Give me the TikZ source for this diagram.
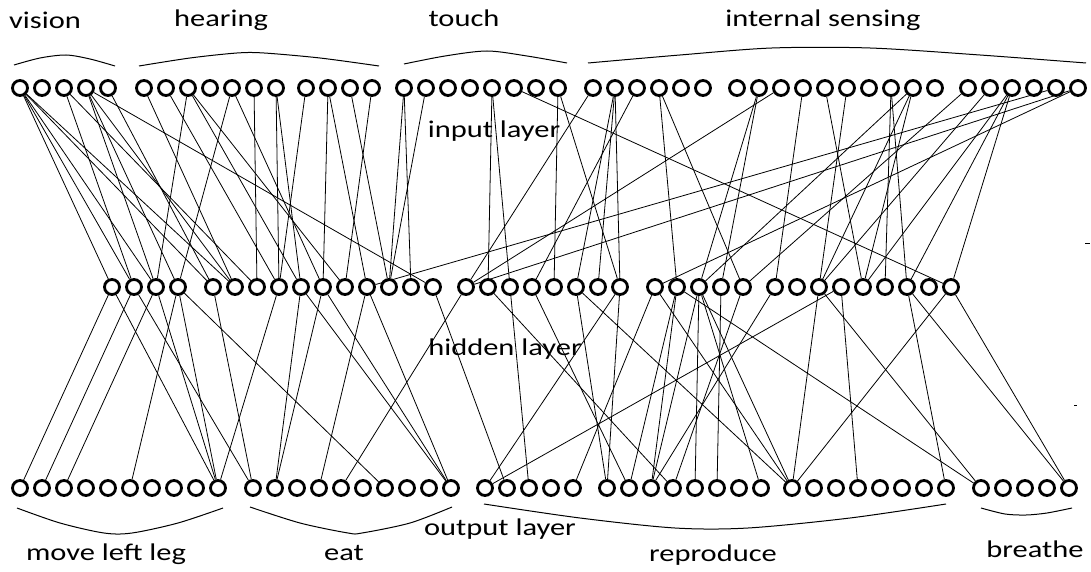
\documentclass[tikz,border=0pt]{standalone}
\usepackage{fontspec}
\setmainfont{Carlito}
\newcommand{\lab}[1]{\scalebox{1.27}[1]{\fontsize{24}{26}\selectfont #1}}
\begin{document}
\begin{tikzpicture}[x=1pt,y=-1pt,
  neuron/.style={circle,draw,line width=2.8pt,minimum size=15pt,inner sep=0pt},
  conn/.style={line width=0.8pt},
  lbl/.style={inner sep=0pt,anchor=base},
  brace/.style={line width=1pt}]
\useasboundingbox (0,0) rectangle (1091,572);
% neurons
\foreach \n/\s/\c/\y in {A/20/5/88,B/144/7/88,C/306/4/88,D/404/8/88,E/593/6/88,F/737/10/88,G/968/6/88,
  P/112/4/287,Q/213/11/287,R/466/8/287,S/655/5/287,T/775/9/287,
  U/20/10/488,V/253/10/488,W/485/5/488,X/607/8/488,Y/792/8/488,Z/981/5/488}
  {\foreach \k in {1,...,\c} {\node[neuron] (\n\k) at ({\s+(\k-1)*22},\y) {};}}
% input -> hidden
\foreach \a/\b in {A1/P1,A1/P2,A1/P3,A1/Q1,A1/Q2,A3/P2,A3/Q3,A4/P3,A4/P4,A4/Q2,A4/Q11,A5/Q1,
  B1/Q2,B2/Q4,B3/P3,B3/Q5,B3/Q7,B5/P4,B5/Q6,B6/Q3,B7/Q4,B7/Q5,C1/Q4,C2/Q6,C2/Q8,C3/Q9,C4/Q7,
  D1/Q9,D1/Q10,D2/Q9,D5/R2,D5/R3,D6/T9,D8/R5,D8/R8,E1/R1,E2/R6,E2/R7,E2/R8,E3/R4,E4/S2,E4/S5,
  F2/S3,F2/S4,F3/R1,F4/T1,F5/T5,F6/T3,F8/T6,F8/T7,F9/T3,F9/T5,F9/S3,G1/S5,G2/T3,G3/T5,G3/T7,G3/T9,
  G5/Q8,G6/S1,G6/R1}
  {\draw[conn] (\a) -- (\b);}
% hidden -> output
\foreach \a/\b in {P1/U1,P1/U10,P2/U2,P2/V1,P3/U3,P3/U10,P4/U6,P4/U10,P4/V7,
  Q1/V1,Q4/U10,Q5/V2,Q6/V2,Q5/V10,Q6/V10,Q8/V10,Q8/V4,R1/V5,Q11/W2,
  R3/W3,R8/W1,S1/W5,T4/W1,R6/X1,R8/X1,R4/X2,S2/X2,S2/X3,S3/X3,T1/X3,S5/X4,S3/X5,S4/X6,S3/X8,
  R6/Y1,S1/Y1,S3/Y1,T3/Y1,T9/Y1,T4/Y4,T7/Y8,S2/Z1,T3/Z1,T7/Z5,T9/Z5,R2/X4}
  {\draw[conn] (\a) -- (\b);}
% group braces
\draw[brace] plot[smooth] coordinates {(14,65) (40,58) (66,55) (90,59) (115,66)};
\draw[brace] plot[smooth] coordinates {(139,66) (190,58) (237,53) (264,53) (320,58) (379,66)};
\draw[brace] plot[smooth] coordinates {(404,64) (445,56) (487,51) (527,56) (567,63)};
\draw[brace] plot[smooth] coordinates {(588,63) (680,55) (772,48) (870,48) (980,55) (1086,63)};
\draw[brace] plot[smooth] coordinates {(17,508) (60,523) (104,533) (132,533) (178,523) (223,508)};
\draw[brace] plot[smooth] coordinates {(250,507) (300,523) (348,533) (362,533) (410,523) (452,507)};
\draw[brace] plot[smooth] coordinates {(484,504) (580,518) (675,528) (748,528) (850,518) (946,504)};
\draw[brace] plot[smooth] coordinates {(981,508) (1005,514) (1026,515) (1047,513) (1072,508)};
% labels
\node[lbl] (tv) at (45,29) {\lab{vision}};
\node[lbl] (th) at (221,27) {\lab{hearing}};
\node[lbl] (tt) at (464,27) {\lab{touch}};
\node[lbl] (ti) at (823,27) {\lab{internal sensing}};
\node[lbl] (tin) at (494,138) {\lab{input layer}};
\node[lbl] (thl) at (505,355) {\lab{hidden layer}};
\node[lbl] (tol) at (500,535) {\lab{output layer}};
\node[lbl] (tm) at (106,560) {\lab{move left leg}};
\node[lbl] (te) at (344,560) {\lab{eat}};
\node[lbl] (tr) at (713,561) {\lab{reproduce}};
\node[lbl] (tb) at (1035,557) {\lab{breathe}};
% small marks
\draw[line width=0.8pt] (1085,243) -- (1090,243);
\draw[line width=0.8pt] (1074,405) -- (1077,405);
\end{tikzpicture}
\end{document}
